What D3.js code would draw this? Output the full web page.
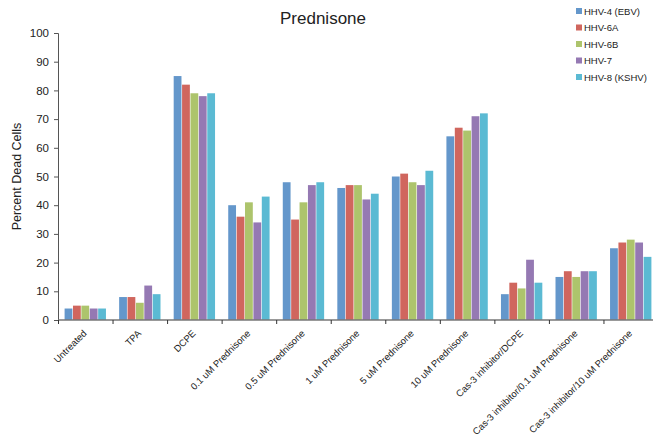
<!DOCTYPE html>
<html><head><meta charset="utf-8">
<script src="https://cdn.jsdelivr.net/npm/d3@7"></script>
<style>body{margin:0;background:#fff;}svg{display:block;font-family:"Liberation Sans",Arial,sans-serif;}</style>
</head><body><div id="chart"></div>
<script>
const categories = ["Untreated","TPA","DCPE","0.1 uM Prednisone","0.5 uM Prednisone","1 uM Prednisone","5 uM Prednisone","10 uM Prednisone","Cas-3 inhibitor/DCPE","Cas-3 inhibitor/0.1 uM Prednisone","Cas-3 inhibitor/10 uM Prednisone"];
const seriesNames = ["HHV-4 (EBV)","HHV-6A","HHV-6B","HHV-7","HHV-8 (KSHV)"];
const hhv4 = [4,8,85,40,48,46,50,64,9,15,25];
const hhv6a = [5,8,82,36,35,47,51,67,13,17,27];
const hhv6b = [5,6,79,41,41,47,48,66,11,15,28];
const hhv7 = [4,12,78,34,47,42,47,71,21,17,27];
const hhv8 = [4,9,79,43,48,44,52,72,13,17,22];
const yTicks = [0,10,20,30,40,50,60,70,80,90,100];
const colors = ["#6497cb","#d0665e","#adc46c","#9579b3","#5bbad3"];
const seriesValues = [hhv4,hhv6a,hhv6b,hhv7,hhv8];

const W=653,H=441;
const m={left:58,right:-5,top:33,bottom:121};
const svg=d3.select("#chart").append("svg").attr("width",W).attr("height",H);
const x=d3.scaleBand().domain(categories).range([m.left,W-m.right]).paddingInner(0).paddingOuter(0);
const xs=d3.scaleBand().domain(seriesNames).range([0,x.bandwidth()]).paddingOuter(0.75).paddingInner(0);
const y=d3.scaleLinear().domain([0,100]).range([H-m.bottom,m.top]);

// bars
const g=svg.append("g");
categories.forEach((c,i)=>{
  seriesNames.forEach((s,j)=>{
    g.append("rect").attr("x",x(c)+xs(s)+0.3).attr("width",xs.bandwidth()-0.6)
     .attr("y",y(seriesValues[j][i])).attr("height",y(0)-y(seriesValues[j][i]))
     .attr("fill",colors[j]);
  });
});

// y axis
const ya=svg.append("g").attr("transform",`translate(${m.left},0)`)
  .call(d3.axisLeft(y).tickValues(yTicks).tickSize(4).tickPadding(5));
ya.select(".domain").attr("stroke","#555");
ya.selectAll(".tick line").attr("stroke","#555");
ya.selectAll("text").attr("font-size",11.5).attr("fill","#222").attr("font-family","Liberation Sans, Arial, sans-serif");

// x axis
const xa=svg.append("g").attr("transform",`translate(0,${y(0)})`);
xa.append("line").attr("x1",m.left).attr("x2",W).attr("y1",0).attr("y2",0).attr("stroke","#777").attr("stroke-width",1.5);
categories.forEach(c=>{
  xa.append("line").attr("x1",x(c)+0.5).attr("x2",x(c)+0.5).attr("y1",0).attr("y2",4).attr("stroke","#333");
});
categories.forEach(c=>{
  const cx=x(c)+x.bandwidth()/2+2, cy=14;
  xa.append("text").attr("transform",`translate(${cx},${cy}) rotate(-45)`)
    .attr("text-anchor","end").attr("font-size",9.5).attr("fill","#222").text(c);
});

// y label
svg.append("text").attr("transform",`translate(21,${(y(0)+y(100))/2}) rotate(-90)`)
  .attr("text-anchor","middle").attr("font-size",12.5).attr("fill","#222").text("Percent Dead Cells");

// title
svg.append("text").attr("x",323).attr("y",24).attr("text-anchor","middle").attr("font-size",17).attr("fill","#222").text("Prednisone");

// legend
const lg=svg.append("g").attr("transform","translate(576,8)");
seriesNames.forEach((s,j)=>{
  const r=lg.append("g").attr("transform",`translate(0,${j*16.5})`);
  r.append("rect").attr("x",0).attr("y",0).attr("width",6).attr("height",6).attr("fill",colors[j]);
  r.append("text").attr("x",8).attr("y",6.5).attr("font-size",9.5).attr("fill","#222").text(s);
});
</script></body></html>
